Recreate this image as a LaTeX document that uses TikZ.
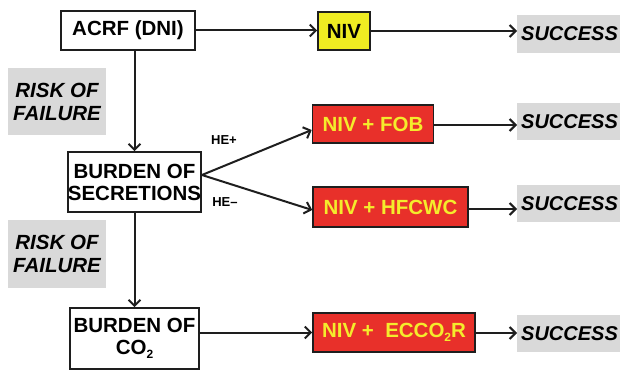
\documentclass[tikz,border=0pt]{standalone}
\usepackage{fontspec}
\setmainfont{Liberation Sans}
\usetikzlibrary{arrows.meta,calc}
\definecolor{redbox}{HTML}{E8302A}
\definecolor{yeltext}{HTML}{F4EC2C}
\definecolor{yelbox}{HTML}{EFEC22}
\definecolor{greybox}{HTML}{D9D9D9}
\definecolor{edge}{HTML}{1E1E1E}
\newcommand\subtwo{\raisebox{-4pt}{\fontsize{12}{12}\selectfont 2}}
\tikzset{
  mainfont/.style={font=\fontsize{20.5}{22}\selectfont\bfseries},
  whitebox/.style={draw=edge,line width=1.6pt,fill=white,mainfont,align=center,inner sep=0pt},
  niv/.style={draw=edge,line width=1.6pt,fill=yelbox,mainfont,inner sep=0pt},
  redfill/.style={draw=edge,line width=1.6pt,fill=redbox,text=yeltext,mainfont,inner sep=0pt},
  successbox/.style={fill=greybox,anchor=west,minimum width=110pt,inner sep=0pt,
    font=\fontsize{20}{22}\selectfont\bfseries\itshape,text width=106pt,align=left},
  riskbox/.style={fill=greybox,minimum width=98pt,inner sep=0pt,align=center,
    font=\fontsize{20.5}{23}\selectfont\bfseries\itshape},
  helabel/.style={font=\fontsize{13}{14}\selectfont\bfseries,inner sep=0pt},
  arr/.style={line width=2pt,draw=edge,-{Straight Barb[length=6pt,width=12pt,line width=2pt]}},
}
\begin{document}
\begin{tikzpicture}[x=1pt,y=-1pt]
\useasboundingbox (0,0) rectangle (620,371);
\fill[white] (0,0) rectangle (620,371);
% boxes
\node[whitebox,minimum width=134pt,minimum height=39pt] (acrf) at (128,30.5) {ACRF (DNI)};
\node[niv,minimum width=52pt,minimum height=38pt] (niv) at (344,31) {NIV};
\node[successbox,minimum height=38pt] (s1) at (517,34) {\hspace*{2pt}SUCCESS};
\node[riskbox,minimum height=67pt] (risk1) at (57,101.5) {RISK OF\\FAILURE};
\node[whitebox,minimum width=129pt,minimum height=60pt] (bsec) at (134.5,182) {BURDEN OF\\SECRETIONS};
\node[redfill,minimum width=121pt,minimum height=38pt] (fob) at (373,124) {NIV + FOB};
\node[successbox,minimum height=37pt] (s2) at (517,121.5) {\hspace*{2pt}SUCCESS};
\node[redfill,minimum width=155pt,minimum height=40pt] (hfc) at (390.5,207) {NIV + HFCWC};
\node[successbox,minimum height=37pt] (s3) at (517,203.5) {\hspace*{2pt}SUCCESS};
\node[riskbox,minimum height=68pt] (risk2) at (57,254) {RISK OF\\FAILURE};
\node[whitebox,minimum width=129pt,minimum height=61pt] (bco) at (134.5,338.5) {BURDEN OF\\CO\subtwo};
\node[redfill,minimum width=162pt,minimum height=39pt] (ecco) at (394,332.5) {NIV +\ \ ECCO\subtwo R};
\node[successbox,minimum height=37pt] (s4) at (517,333.5) {\hspace*{2pt}SUCCESS};
% labels
\node[helabel] (hep) at (224,140) {HE+};
\node[helabel] (hem) at (225,202) {HE--};
% connectors
\draw[arr] (acrf.east) -- (acrf.east -| niv.west);
\draw[arr] (niv.east) -- (niv.east -| s1.west);
\draw[arr] (acrf.south -| bsec.north) -- (bsec.north);
\coordinate (split) at ($(bsec.east)+(0,-7)$);
\draw[arr] (split) -- ($(fob.west)+(0,6)$);
\draw[arr] (split) -- ($(hfc.west)+(0,3)$);
\draw[arr] (fob.east |- 0,125) -- (s2.west |- 0,125);
\draw[arr] (hfc.east |- 0,209) -- (s3.west |- 0,209);
\draw[arr] (bsec.south) -- (bco.north);
\draw[arr] (bco.east |- ecco.west) -- (ecco.west);
\draw[arr] (ecco.east |- 0,333) -- (s4.west |- 0,333);
\end{tikzpicture}
\end{document}
